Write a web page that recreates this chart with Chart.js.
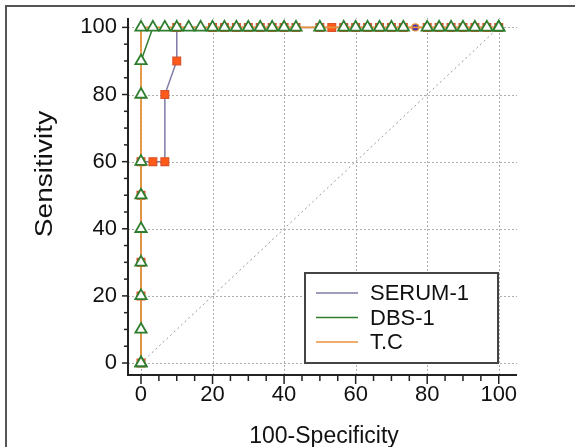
<!DOCTYPE html>
<html>
<head>
<meta charset="utf-8">
<script src="https://cdn.jsdelivr.net/npm/chart.js@4"></script>
<style>
  html, body { margin: 0; padding: 0; background: #fff; overflow: hidden; }
  canvas { display: block; }
</style>
</head>
<body>
<canvas id="roc" width="575" height="447"></canvas>
<script>
// --- data (100-Specificity vs Sensitivity) ---
const serumX = [0, 0, 0, 0, 0, 3.33, 6.67, 6.67, 10, 10,
  20, 23.33, 26.67, 30, 33.33, 36.67, 40, 43.33,
  50, 53.33, 56.67, 60, 63.33, 66.67, 70, 73.33, 76.67, 80, 83.33, 86.67, 90, 93.33, 96.67, 100];
const serumY = [0, 20, 30, 50, 60, 60, 60, 80, 90, 100,
  100, 100, 100, 100, 100, 100, 100, 100,
  100, 100, 100, 100, 100, 100, 100, 100, 100, 100, 100, 100, 100, 100, 100, 100];
const serumMarkX = 76.67; // the one round marker on the serum curve

const dbsX = [0, 0, 0, 0, 0, 0, 0, 0, 0,
  3.33, 6.67, 10, 13.33, 16.67, 20, 23.33, 26.67, 30, 33.33, 36.67, 40, 43.33,
  50, 56.67, 60, 63.33, 66.67, 70, 73.33, 80, 83.33, 86.67, 90, 93.33, 96.67, 100];
const dbsY = [0, 10, 20, 30, 40, 50, 60, 80, 90,
  100, 100, 100, 100, 100, 100, 100, 100, 100, 100, 100, 100, 100,
  100, 100, 100, 100, 100, 100, 100, 100, 100, 100, 100, 100, 100, 100];

const tcX = [0, 0, 100];
const tcY = [0, 100, 100];

const diagX = [0, 100];
const diagY = [0, 100];

const xTicks = [0, 20, 40, 60, 80, 100];
const yTicks = [0, 20, 40, 60, 80, 100];
const minorStep = 5;
const legendNames = ['SERUM-1', 'DBS-1', 'T.C'];

const C_SERUM = '#7f7ca8';
const C_DBS = '#2f7d2f';
const C_TC = '#e8923c';
const FONT = '"Liberation Sans", Arial, sans-serif';

function pts(xs, ys) { return xs.map((x, i) => ({ x: x, y: ys[i] })); }

// hide DBS segments that lie on the T.C path so the orange line shows there
function onTcPath(ctx) {
  const a = ctx.p0.parsed, b = ctx.p1.parsed;
  return (a.x === 0 && b.x === 0) || (a.y === 100 && b.y === 100);
}

// frame, grid, axes, minor ticks, titles, legend
const decor = {
  id: 'decor',
  beforeDraw(chart) {
    const c = chart.ctx;
    c.save();
    c.fillStyle = '#fff';
    c.fillRect(0, 0, chart.width, chart.height);
    c.strokeStyle = '#555';
    c.lineWidth = 2;
    c.beginPath();
    c.moveTo(6, chart.height); c.lineTo(6, 6); c.lineTo(chart.width, 6);
    c.stroke();
    c.restore();
  },
  beforeDatasetsDraw(chart) {
    const c = chart.ctx, xs = chart.scales.x, ys = chart.scales.y, a = chart.chartArea;
    c.save();
    c.strokeStyle = '#adadad';
    c.lineWidth = 1;
    c.setLineDash([2, 2]);
    xTicks.forEach(v => {
      const px = Math.round(xs.getPixelForValue(v)) + 0.5;
      c.beginPath(); c.moveTo(px, a.bottom); c.lineTo(px, a.top); c.stroke();
    });
    yTicks.forEach(v => {
      const py = Math.round(ys.getPixelForValue(v)) + 0.5;
      c.beginPath(); c.moveTo(a.left, py); c.lineTo(a.right, py); c.stroke();
    });
    c.restore();
  },
  afterDraw(chart) {
    const c = chart.ctx, xs = chart.scales.x, ys = chart.scales.y, a = chart.chartArea;
    c.save();
    c.strokeStyle = '#222';
    c.lineWidth = 2;
    c.beginPath();
    c.moveTo(a.left, a.top); c.lineTo(a.left, a.bottom); c.lineTo(a.right, a.bottom);
    c.stroke();
    c.lineWidth = 1.5;
    for (let v = 0; v <= 100; v += minorStep) {
      const major = xTicks.includes(v);
      const px = xs.getPixelForValue(v);
      c.beginPath(); c.moveTo(px, a.bottom); c.lineTo(px, a.bottom + (major ? 9 : 6)); c.stroke();
      const py = ys.getPixelForValue(v);
      c.beginPath(); c.moveTo(a.left, py); c.lineTo(a.left - (yTicks.includes(v) ? 6 : 4), py); c.stroke();
    }

    // axis titles
    c.fillStyle = '#111';
    c.font = '23px ' + FONT;
    c.textAlign = 'center';
    c.textBaseline = 'alphabetic';
    c.fillText('100-Specificity', 324, 443);
    c.save();
    c.translate(52, 174);
    c.rotate(-Math.PI / 2);
    c.scale(1.22, 1);
    c.fillText('Sensitivity', 0, 0);
    c.restore();

    // legend box
    const bx = 305, by = 273, bw = 193, bh = 90;
    c.fillStyle = '#fff';
    c.fillRect(bx, by, bw, bh);
    c.strokeStyle = '#444';
    c.lineWidth = 2;
    c.strokeRect(bx, by, bw, bh);
    c.font = '22px ' + FONT;
    c.textAlign = 'left';
    c.textBaseline = 'middle';
    legendNames.forEach((name, i) => {
      const ds = chart.data.datasets.find(d => d.label === name);
      const yy = 293 + i * 24.5;
      c.strokeStyle = ds.legendColor;
      c.lineWidth = 1.5;
      c.beginPath(); c.moveTo(316, yy); c.lineTo(358, yy); c.stroke();
      c.fillStyle = '#111';
      c.fillText(name, 370, yy + 1);
    });
    c.restore();
  }
};

new Chart(document.getElementById('roc'), {
  type: 'scatter',
  data: {
    datasets: [
      {
        label: 'DBS-1', legendColor: C_DBS, order: 0,
        data: pts(dbsX, dbsY), showLine: true,
        borderColor: C_DBS, borderWidth: 1.5,
        segment: { borderColor: ctx => onTcPath(ctx) ? 'rgba(0,0,0,0)' : C_DBS },
        pointStyle: 'triangle', pointRadius: 6.5,
        pointBackgroundColor: '#fff', pointBorderColor: C_DBS, pointBorderWidth: 1.8
      },
      {
        label: 'T.C', legendColor: C_TC, order: 1,
        data: pts(tcX, tcY), showLine: true,
        borderColor: C_TC, borderWidth: 1.8,
        pointStyle: 'triangle', pointRadius: 6.5,
        pointBackgroundColor: '#fff', pointBorderColor: C_DBS, pointBorderWidth: 1.8
      },
      {
        label: 'SERUM-1', legendColor: C_SERUM, order: 2,
        data: pts(serumX, serumY), showLine: true,
        borderColor: C_SERUM, borderWidth: 1.5,
        pointStyle: ctx => serumX[ctx.dataIndex] === serumMarkX ? 'circle' : 'rect',
        pointRadius: ctx => serumX[ctx.dataIndex] === serumMarkX ? 3.5 : 5.5,
        pointBackgroundColor: ctx => serumX[ctx.dataIndex] === serumMarkX ? '#3b2db5' : '#ff5a18',
        pointBorderColor: ctx => serumX[ctx.dataIndex] === serumMarkX ? '#e8923c' : '#d9532a',
        pointBorderWidth: 1.2
      },
      {
        label: 'diag', legendColor: '#999', order: 3,
        data: pts(diagX, diagY), showLine: true,
        borderColor: '#9a9a9a', borderWidth: 1, borderDash: [2, 3],
        pointRadius: 0
      }
    ]
  },
  options: {
    responsive: false,
    animation: false,
    layout: { padding: { left: 0, right: 58, top: 18, bottom: 0 } },
    plugins: { legend: { display: false }, tooltip: { enabled: false } },
    scales: {
      x: {
        type: 'linear', min: -3.63, max: 105.1,
        afterFit: s => { s.height = 72; },
        grid: { display: false },
        border: { display: false },
        ticks: {
          stepSize: minorStep, includeBounds: false, autoSkip: false, maxRotation: 0,
          padding: -1, color: '#111', font: { family: FONT, size: 22 },
          callback: v => xTicks.includes(v) ? String(v) : ''
        }
      },
      y: {
        type: 'linear', min: -3.57, max: 102.8,
        afterFit: s => { s.width = 128; },
        grid: { display: false },
        border: { display: false },
        ticks: {
          stepSize: minorStep, includeBounds: false, autoSkip: false,
          padding: 3, color: '#111', font: { family: FONT, size: 22 },
          callback: v => yTicks.includes(v) ? String(v) : ''
        }
      }
    }
  },
  plugins: [decor]
});
</script>
</body>
</html>
